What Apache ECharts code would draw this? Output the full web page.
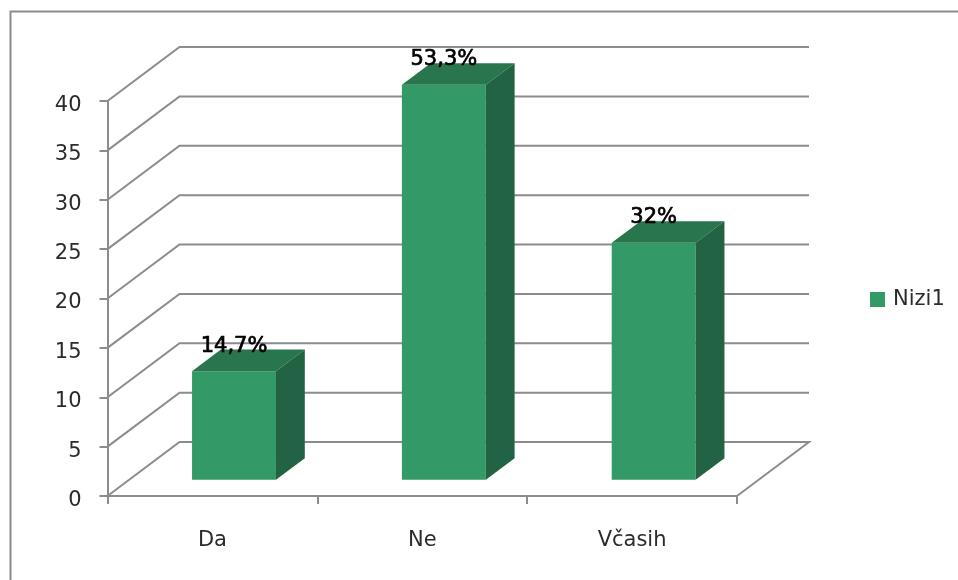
<!DOCTYPE html>
<html><head><meta charset="utf-8">
<style>html,body{margin:0;padding:0;background:#fff}#c{width:958px;height:580px;filter:blur(0.6px)}</style>
<script src="https://cdn.jsdelivr.net/npm/echarts@6/dist/echarts.min.js"></script>
</head><body><div id="c"></div>
<script>
const categories = ['Da', 'Ne', 'Včasih'];
const seriesName = 'Nizi1';
const values = [11, 40, 24];
const valueLabels = ['14,7%', '53,3%', '32%'];
const yTicks = [0, 5, 10, 15, 20, 25, 30, 35, 40];

const DEPTH_X = 72, DEPTH_Y = -54;
const LINE = '#8c8c8c', TEXT = '#2b2b2b';
const FONT = '"DejaVu Sans",sans-serif';
const FRONT = '#339966', TOP = '#28754e', SIDE = '#216342';

const chart = echarts.init(document.getElementById('c'), null, {renderer: 'canvas'});
chart.setOption({
  animation: false,
  backgroundColor: '#fff',
  graphic: [{
    type: 'polyline', silent: true,
    shape: {points: [[10.5, 580], [10.5, 11.5], [958, 11.5]]},
    style: {stroke: '#8c8c8c', lineWidth: 2, fill: null}
  }],
  grid: {left: 107.5, right: 221, top: 101, bottom: 84},
  legend: {
    data: [seriesName], left: 870, top: 289, padding: 0, icon: 'rect',
    itemWidth: 15, itemHeight: 15, itemGap: 0,
    textStyle: {fontFamily: FONT, fontSize: 21, color: TEXT, padding: [0, 0, 0, 3]}
  },
  xAxis: {
    type: 'category', data: categories,
    axisLine: {lineStyle: {color: LINE, width: 2}},
    axisTick: {show: true, length: 8, lineStyle: {color: LINE, width: 2}},
    axisLabel: {fontFamily: FONT, fontSize: 21, color: TEXT, margin: 34},
    splitLine: {show: false}
  },
  yAxis: {
    type: 'value', min: 0, max: 40, interval: 5,
    axisLine: {show: true, lineStyle: {color: LINE, width: 2}},
    axisTick: {show: true, length: 8, lineStyle: {color: LINE, width: 2}},
    axisLabel: {fontFamily: FONT, fontSize: 21, color: TEXT, margin: 26, lineHeight: 21, verticalAlign: 'top', height: 21, padding: [-6, 0, 0, 0]},
    splitLine: {show: false}
  },
  series: [{
    name: 'walls', type: 'custom', silent: true, z: 1, clip: false,
    data: yTicks.map(v => [0, v]),
    renderItem(params, api) {
      const v = api.value(1);
      const band = api.size([1, 0])[0];
      const c = api.coord([0, v]);
      const x0 = c[0] - band / 2, y0 = c[1];
      const x1 = x0 + band * categories.length;
      const pts = [[x0, y0], [x0 + DEPTH_X, y0 + DEPTH_Y], [x1 + DEPTH_X, y0 + DEPTH_Y]];
      if (v === 0) pts.push([x1, y0]);
      return {type: 'polyline', shape: {points: pts},
        style: {stroke: LINE, lineWidth: 2, fill: null}};
    }
  }, {
    name: seriesName, type: 'custom', z: 3, clip: false,
    itemStyle: {color: FRONT},
    encode: {x: 0, y: 1},
    data: categories.map((c, i) => [i, values[i]]),
    renderItem(params, api) {
      const i = api.value(0), v = api.value(1);
      const band = api.size([1, 0])[0];
      const base = api.coord([i, 0]), top = api.coord([i, v]);
      const w = band * 0.4;
      const fx = 0.3 * DEPTH_X, fy = 0.3 * DEPTH_Y;
      const dx = 0.4 * DEPTH_X, dy = 0.4 * DEPTH_Y;
      const l = base[0] - w / 2 + fx, r = l + w;
      const b = base[1] + fy, t = top[1] + fy;
      return {type: 'group', children: [
        {type: 'polygon', shape: {points: [[l, b], [r, b], [r, t], [l, t]]}, style: {fill: FRONT}},
        {type: 'polygon', shape: {points: [[l, t], [r, t], [r + dx, t + dy], [l + dx, t + dy]]}, style: {fill: TOP}},
        {type: 'polygon', shape: {points: [[r, b], [r + dx, b + dy], [r + dx, t + dy], [r, t]]}, style: {fill: SIDE}},
        {type: 'text', style: {
          x: (l + r) / 2, y: t - 25, text: valueLabels[params.dataIndex],
          align: 'center', verticalAlign: 'middle',
          fontFamily: FONT, fontSize: 21, fill: '#000', stroke: '#000', lineWidth: 0.7
        }}
      ]};
    }
  }]
});
</script></body></html>
